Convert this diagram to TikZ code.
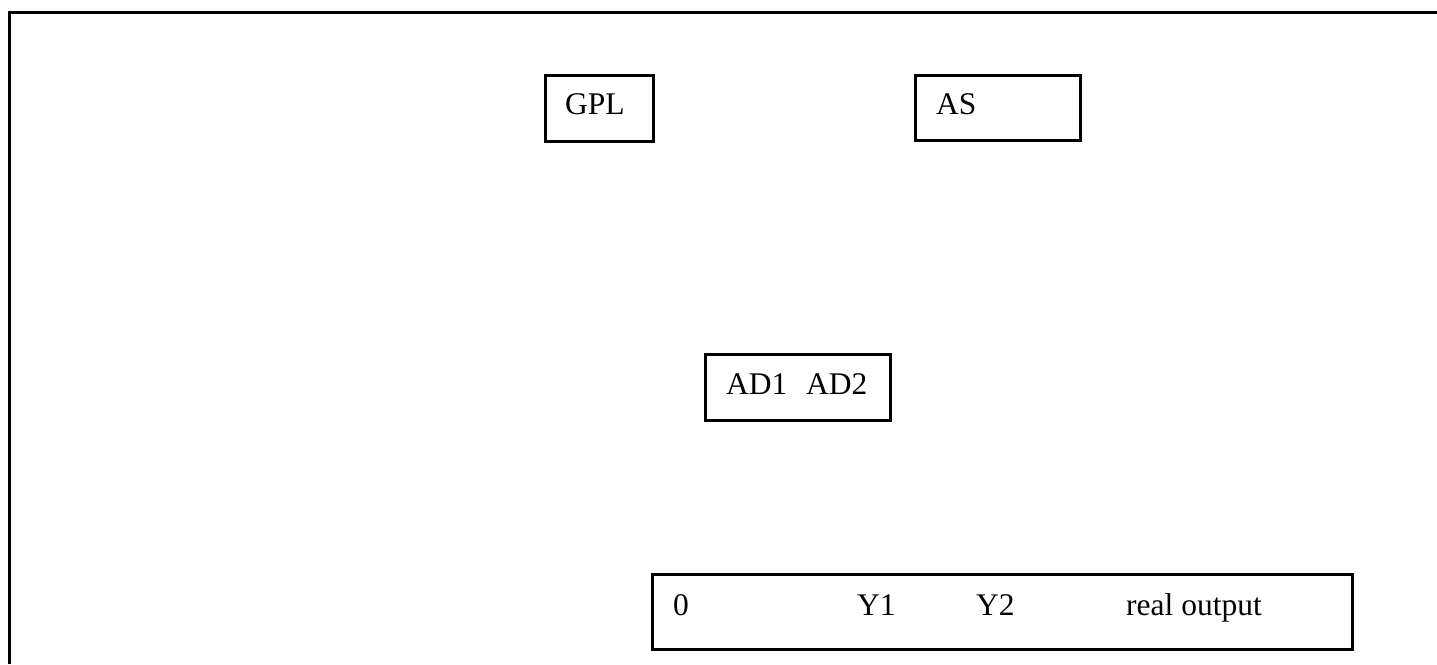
\documentclass[tikz,border=0pt]{standalone}
\usepackage{fontspec}
\setmainfont{Liberation Serif}
\begin{document}
\begin{tikzpicture}[x=1pt,y=-1pt,
  box/.style={draw=black,line width=3pt,rectangle,inner sep=0pt},
  lbl/.style={anchor=base west,inner sep=0pt,font=\fontsize{31.5}{38}\selectfont}]
\useasboundingbox (0,0) rectangle (1437,664);
\draw[line width=3pt] (9.5,664) -- (9.5,12.5) -- (1437,12.5);
% boxes
\node[box,minimum width=108pt,minimum height=66pt] (gpl) at (599.5,108.5) {};
\node[box,minimum width=165pt,minimum height=65pt] (as) at (998,108) {};
\node[box,minimum width=185pt,minimum height=66pt] (ad) at (798,387) {};
\node[box,minimum width=700pt,minimum height=75pt] (out) at (1002.5,612) {};
% texts
\node[lbl] (tgpl) at (565,114) {GPL};
\node[lbl] (tas) at (936,114) {AS};
\node[lbl] (tad1) at (726,394) {AD1};
\node[lbl] (tad2) at (806,394) {AD2};
\node[lbl] (t0) at (673,615) {0};
\node[lbl] (ty1) at (857,615) {Y1};
\node[lbl] (ty2) at (976,615) {Y2};
\node[lbl] (treal) at (1126,615) {real output};
\end{tikzpicture}
\end{document}
